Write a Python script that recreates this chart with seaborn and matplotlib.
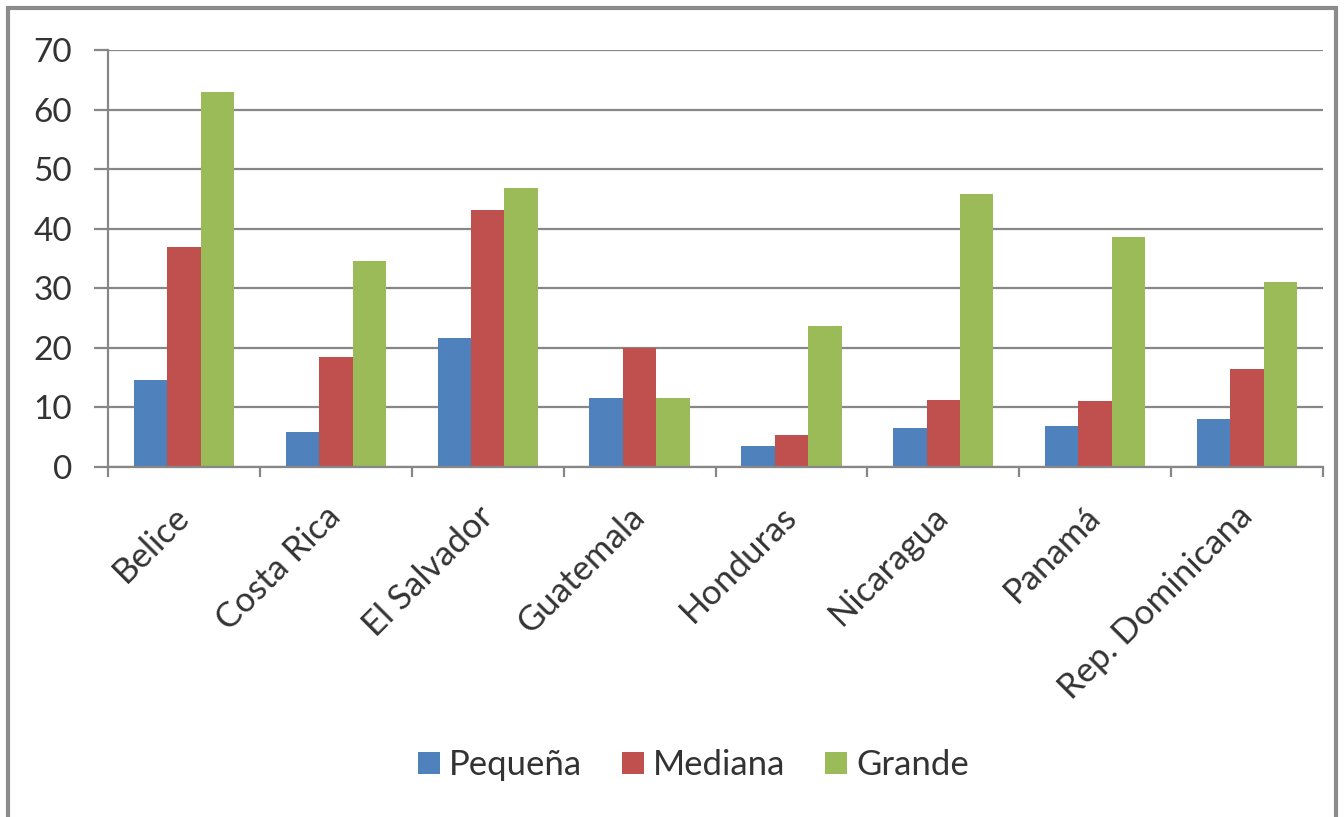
import pandas as pd
import numpy as np
import seaborn as sns
import matplotlib.pyplot as plt
from matplotlib.patches import Rectangle

# datos
paises = ['Belice', 'Costa Rica', 'El Salvador', 'Guatemala', 'Honduras',
          'Nicaragua', 'Panamá', 'Rep. Dominicana']
pequena = [14.6, 5.8, 21.6, 11.6, 3.6, 6.5, 6.8, 8.0]
mediana = [37.0, 18.5, 43.1, 19.9, 5.3, 11.3, 11.0, 16.5]
grande = [62.9, 34.6, 46.8, 11.6, 23.7, 45.9, 38.6, 31.0]
series = ['Pequeña', 'Mediana', 'Grande']
colores = ['#4F81BD', '#C0504D', '#9BBB59']

df = pd.DataFrame({'pais': paises * 3,
                   'serie': [s for s in series for _ in paises],
                   'valor': pequena + mediana + grande})

sns.set_theme(style="white")
plt.rcParams['font.family'] = ['Lato', 'DejaVu Sans']

fig = plt.figure(figsize=(13.44, 8.17), dpi=100)
ax = fig.add_axes([108/1344, 1 - 467/817, (1323-108)/1344, (467-50)/817])

sns.barplot(data=df, x='pais', y='valor', hue='serie', palette=colores,
            width=0.66, saturation=1, ax=ax, legend=True,
            edgecolor='none', linewidth=0)

gris = '#878787'
ax.set_ylim(0, 70)
ax.set_xlim(-0.5, 7.5)
ax.set_yticks(range(0, 71, 10))
ax.yaxis.grid(True, color=gris, lw=1.6)
ax.set_axisbelow(True)
ax.set_xlabel('')
ax.set_ylabel('')
for s in ['top', 'right']:
    ax.spines[s].set_visible(False)
for s in ['left', 'bottom']:
    ax.spines[s].set_color(gris)
    ax.spines[s].set_linewidth(1.6)

ax.tick_params(axis='y', length=10, width=1.6, color=gris, direction='out',
               labelsize=24, labelcolor='#333333', pad=16, left=True)
ax.set_xticks(np.arange(-0.5, 8, 1), minor=True)
ax.tick_params(axis='x', which='minor', length=7.5, width=1.6, color=gris,
               direction='out', bottom=True)
ax.tick_params(axis='x', which='major', length=0, labelsize=25,
               labelcolor='#333333', pad=32)
for lab in ax.get_xticklabels():
    lab.set_rotation(45)
    lab.set_ha('right')
    lab.set_va('center')
    lab.set_rotation_mode('anchor')

handles, labels = ax.get_legend_handles_labels()
ax.legend(handles, labels, loc='center', bbox_to_anchor=(0.482, -0.715),
          ncol=3, frameon=False, fontsize=25, handlelength=0.63,
          handleheight=0.63, handletextpad=0.26, columnspacing=1.15,
          labelcolor='#333333')

# marco exterior del grafico
fig.patches.append(Rectangle((8/1344, -0.05), (1336-8)/1344, 1.05 - 8/817,
                             transform=fig.transFigure, fill=False,
                             edgecolor='#8c8c8c', lw=3))

plt.savefig('out.png', dpi=100)
